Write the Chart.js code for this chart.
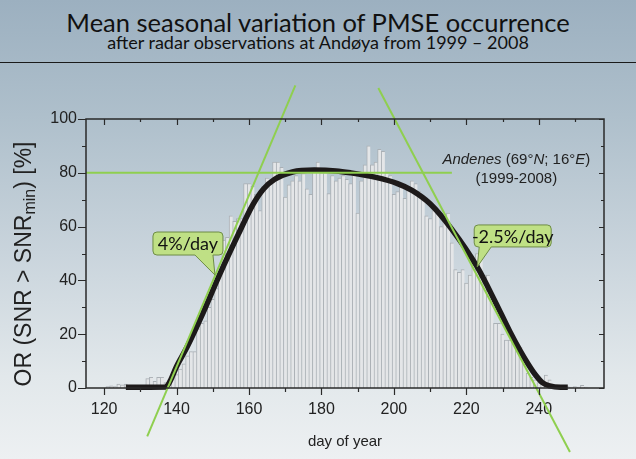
<!DOCTYPE html>
<html>
<head>
<meta charset="utf-8">
<script src="https://cdn.jsdelivr.net/npm/chart.js@4.4.1/dist/chart.umd.min.js"></script>
<style>
  html, body { margin: 0; padding: 0; }
  body {
    width: 636px; height: 459px; overflow: hidden; position: relative;
    background: linear-gradient(to bottom, #9cb0c0 0%, #aebfcb 25%, #c9d4dc 55%, #e2e8eb 82%, #edf0f2 100%);
    font-family: Lato, "Open Sans", sans-serif;
  }
  #title { position: absolute; left: 0; width: 636px; top: 7px; text-align: center; font-size: 25.5px; color: #111; }
  #subtitle { position: absolute; left: 0; width: 636px; top: 31px; text-align: center; font-size: 18px; color: #111; }
  #rule { position: absolute; left: 0; width: 636px; top: 62px; border-top: 1.5px solid #1a1a1a; }
  #wrap { position: absolute; left: 0; top: 0; width: 636px; height: 459px; }
</style>
</head>
<body>
<div id="title">Mean seasonal variation of PMSE occurrence</div>
<div id="subtitle">after radar observations at Andøya from 1999 – 2008</div>
<div id="rule"></div>
<div id="wrap"><canvas id="chart" width="636" height="459"></canvas></div>

<script>
// ---------------------------
// data
// ---------------------------
const firstDay = 121;
// daily PMSE occurrence rate [%], day 121 .. 253
const occurrence = [
  0.5, 0.8, 0.5, 1.5, 1.2, 1.5, 0.8, 0.5, 0.6, 0.8,      // 121-130
  1, 3.5, 4, 2.5, 4, 4, 2, 3, 3.5, 5,                    // 131-140
  7, 9, 12, 13.5, 13.5, 22, 24, 25, 30, 33,              // 141-150
  37, 42, 55, 56, 64, 62, 63, 63, 76, 76,                // 151-160
  75, 72, 66, 75, 78, 77, 84, 84, 82, 71,                // 161-170
  75.5, 77, 79, 77, 79.7, 74, 72, 80.8, 84, 80,          // 171-180
  80, 72.3, 79, 77, 78, 79, 77.6, 76, 79.7, 65,          // 181-190
  77, 83, 90, 83, 84, 88.7, 88, 80, 79, 72,              // 191-200
  73, 75, 70.5, 74, 77, 76, 73, 70, 64, 63,              // 201-210
  66, 65, 60, 63, 65, 54, 44, 43, 44, 39,                // 211-220
  42, 47.6, 50, 50, 42, 42, 33, 24, 24, 20,              // 221-230
  17.8, 17.8, 17, 16, 15, 10.4, 5.5, 4, 3, 2,            // 231-240
  1.5, 4.8, 3, 1, 0.8, 0.5, 0.3, 0.5, 0.3, 0.5,          // 241-250
  0.3, 1, 0.3                                            // 251-253
];
const days = occurrence.map((_, i) => firstDay + i);

// smooth fit (black curve)
const fitDays  = [126, 137, 138, 140, 143, 147, 152, 157, 161, 164, 167, 172, 178, 184, 188, 195, 201, 205, 210, 216, 223, 228, 232, 235, 237, 239, 241, 243, 246, 248];
const fitRates = [0.3, 0.4, 2, 8, 15.5, 27, 42.5, 57, 68, 74, 77.5, 80.3, 81, 80.7, 80, 78.3, 76, 73.5, 68.5, 59, 45, 32, 21, 13.5, 9, 5, 2, 0.8, 0.3, 0.3];

// green guide lines (day, %)
const plateauDays = [115, 216];
const plateauRate = 80;
const riseDays  = [131.9, 172.8];
const riseRates = [-18, 112.5];
const fallDays  = [195.7, 248.6];
const fallRates = [111.5, -23.8];

// axes
const xRange = [115, 258];
const xLabelTicks = [120, 140, 160, 180, 200, 220, 240];
const xMinorTicks = [120, 130, 140, 150, 160, 170, 180, 190, 200, 210, 220, 230, 240, 250];
const yLabelTicks = [0, 20, 40, 60, 80, 100];
const yMinorTicks = [0, 10, 20, 30, 40, 50, 60, 70, 80, 90, 100];

// callout anchors (day, %) on the trend lines
const riseCallout = { day: 150.6, rate: 42, text: '4%/day' };
const fallCallout = { day: 223, rate: 45, text: '-2.5%/day' };

const GREEN = '#8fcf4f';
const LABEL_FONT = 'Liberation Sans, Arial, sans-serif';

const pts = (xs, ys) => xs.map((x, i) => ({ x: x, y: Array.isArray(ys) ? ys[i] : ys }));

// frame with ticks: bottom/left outward, top/right inward
const framePlugin = {
  id: 'frame',
  afterDatasetsDraw(chart) {
    const { ctx, chartArea: a, scales: { x, y } } = chart;
    ctx.save();
    ctx.strokeStyle = '#2a2a2a';
    ctx.lineWidth = 1.5;
    ctx.strokeRect(a.left, a.top, a.right - a.left, a.bottom - a.top);
    ctx.lineWidth = 1.2;
    ctx.beginPath();
    xMinorTicks.forEach(v => {
      const px = Math.round(x.getPixelForValue(v)) + 0.5;
      const major = v % 20 === 0;
      ctx.moveTo(px, a.bottom); ctx.lineTo(px, a.bottom + (major ? 7 : 4));
      ctx.moveTo(px, a.top); ctx.lineTo(px, a.top + (major ? 6 : 3));
    });
    yMinorTicks.forEach(v => {
      const py = Math.round(y.getPixelForValue(v)) + 0.5;
      const major = v % 20 === 0;
      ctx.moveTo(a.left, py); ctx.lineTo(a.left - (major ? 8 : 4), py);
      ctx.moveTo(a.right, py); ctx.lineTo(a.right - (major ? 5 : 3), py);
    });
    ctx.stroke();
    ctx.restore();
  }
};

function drawCallout(ctx, tipX, tipY, box, base, text) {
  const l = tipX + box.l, r = tipX + box.r, t = tipY + box.t, b = tipY + box.b, rad = 4;
  ctx.beginPath();
  ctx.moveTo(l + rad, t);
  ctx.arcTo(r, t, r, b, rad);
  ctx.arcTo(r, b, l, b, rad);
  ctx.lineTo(tipX + base[1], b);
  ctx.lineTo(tipX, tipY);
  ctx.lineTo(tipX + base[0], b);
  ctx.arcTo(l, b, l, t, rad);
  ctx.arcTo(l, t, r, t, rad);
  ctx.closePath();
  ctx.fillStyle = '#bfe085';
  ctx.fill();
  ctx.strokeStyle = '#6d8c45';
  ctx.lineWidth = 1;
  ctx.stroke();
  ctx.fillStyle = '#111';
  ctx.font = '18px Lato, "Open Sans", sans-serif';
  ctx.textAlign = 'center';
  ctx.textBaseline = 'middle';
  ctx.fillText(text, (l + r) / 2, (t + b) / 2 + 1);
}

function drawRuns(ctx, runs, cx, baseline, size) {
  const fontFor = it => (it ? 'italic ' : '') + size + 'px ' + LABEL_FONT;
  let w = 0;
  runs.forEach(([s, it]) => { ctx.font = fontFor(it); w += ctx.measureText(s).width; });
  let px = cx - w / 2;
  runs.forEach(([s, it]) => {
    ctx.font = fontFor(it);
    ctx.fillText(s, px, baseline);
    px += ctx.measureText(s).width;
  });
}

const textPlugin = {
  id: 'texts',
  afterDraw(chart) {
    const { ctx, scales: { x, y } } = chart;
    ctx.save();
    // y axis title with subscript
    ctx.translate(25, 264);
    ctx.rotate(-Math.PI / 2);
    ctx.fillStyle = '#222';
    ctx.textBaseline = 'middle';
    const big = '23px ' + LABEL_FONT, small = '16px ' + LABEL_FONT;
    const parts = [['OR (SNR > SNR', big, 0], ['min', small, 6], [') [%]', big, 0]];
    let w = 0;
    parts.forEach(([s, f]) => { ctx.font = f; w += ctx.measureText(s).width; });
    let px = -w / 2;
    ctx.textAlign = 'left';
    parts.forEach(([s, f, dy]) => { ctx.font = f; ctx.fillText(s, px, dy); px += ctx.measureText(s).width; });
    ctx.restore();

    // station label
    ctx.save();
    ctx.fillStyle = '#222';
    ctx.textAlign = 'left';
    ctx.textBaseline = 'alphabetic';
    const sx = x.getPixelForValue(233.8), sy = y.getPixelForValue(83.3);
    drawRuns(ctx, [['Andenes', true], [' (69°', false], ['N', true], ['; 16°', false], ['E', true], [')', false]], sx, sy, 15);
    drawRuns(ctx, [['(1999-2008)', false]], sx, sy + 19, 15);
    ctx.restore();

    // callouts
    ctx.save();
    drawCallout(ctx, x.getPixelForValue(riseCallout.day), y.getPixelForValue(riseCallout.rate),
      { l: -62, r: 8, t: -43, b: -20 }, [-20, -2], riseCallout.text);
    drawCallout(ctx, x.getPixelForValue(fallCallout.day), y.getPixelForValue(fallCallout.rate),
      { l: -3, r: 74, t: -42, b: -20 }, [2, 14], fallCallout.text);
    ctx.restore();
  }
};

const greenLine = (data) => ({
  type: 'line', data: data, borderColor: GREEN, borderWidth: 2,
  pointRadius: 0, clip: false, order: 0
});

new Chart(document.getElementById('chart'), {
  type: 'bar',
  data: {
    datasets: [
      greenLine(pts(plateauDays, plateauRate)),
      greenLine(pts(riseDays, riseRates)),
      greenLine(pts(fallDays, fallRates)),
      {
        type: 'line',
        data: pts(fitDays, fitRates),
        borderColor: '#1d1a1a',
        borderWidth: 5.5,
        cubicInterpolationMode: 'monotone',
        pointRadius: 0,
        clip: false,
        order: 1
      },
      {
        type: 'bar',
        data: pts(days, occurrence),
        backgroundColor: '#e4e6e8',
        borderColor: '#aab0b5',
        borderWidth: { left: 1, top: 1, right: 0, bottom: 0 },
        borderSkipped: false,
        barPercentage: 1,
        categoryPercentage: 1,
        order: 2
      }
    ]
  },
  options: {
    responsive: false,
    animation: false,
    layout: { padding: { top: 119, right: 32, left: 0, bottom: 0 } },
    plugins: { legend: { display: false }, tooltip: { enabled: false } },
    scales: {
      x: {
        type: 'linear',
        min: xRange[0],
        max: xRange[1],
        offset: false,
        grid: { display: false, drawTicks: false },
        border: { display: false },
        afterBuildTicks: s => { s.ticks = xLabelTicks.map(v => ({ value: v })); },
        afterFit: s => { s.height = 71; },
        ticks: {
          padding: 12,
          autoSkip: false,
          maxRotation: 0,
          color: '#222',
          font: { family: LABEL_FONT, size: 16 }
        },
        title: {
          display: true,
          text: 'day of year',
          color: '#222',
          font: { family: LABEL_FONT, size: 15 },
          padding: { top: 0, bottom: 8 }
        }
      },
      y: {
        min: 0,
        max: 100,
        grid: { display: false, drawTicks: false },
        border: { display: false },
        afterBuildTicks: s => { s.ticks = yLabelTicks.map(v => ({ value: v })); },
        afterFit: s => { s.width = 86; },
        ticks: {
          padding: 9,
          color: '#222',
          font: { family: LABEL_FONT, size: 16 }
        }
      }
    }
  },
  plugins: [framePlugin, textPlugin]
});
</script>
</body>
</html>
